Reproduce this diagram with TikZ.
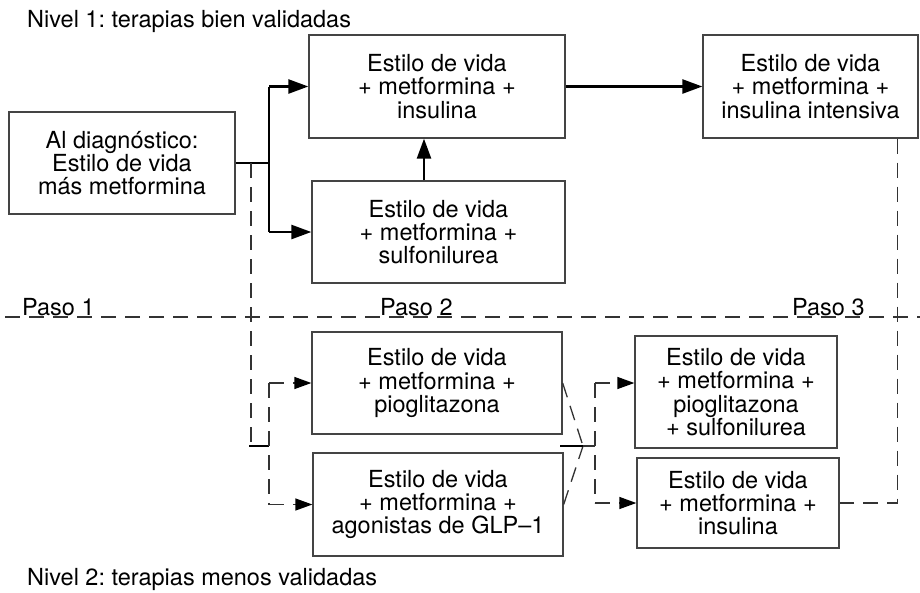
\documentclass[tikz,border=0pt]{standalone}
\usepackage{fontspec}
\setmainfont{TeX Gyre Heros}
\usetikzlibrary{arrows.meta,calc}
\definecolor{boxc}{HTML}{444444}
\definecolor{dashc}{HTML}{333333}
\frenchspacing
\begin{document}
\begin{tikzpicture}[x=1pt,y=-1pt,
  every node/.style={font=\fontsize{23.5}{23.3}\selectfont},
  box/.style={draw=boxc,line width=1.3pt,align=center,inner sep=0pt},
  conn/.style={line width=1.5pt,black},
  arr/.style={line width=2.5pt,black,-{Triangle[length=20pt,width=14pt]}},
  dsh/.style={line width=1.3pt,dashc,dash pattern=on 15pt off 9pt},
  darr/.style={dsh,-{Triangle[length=17pt,width=12pt,color=black]}},
  lbl/.style={anchor=base west,inner sep=0pt}]
\useasboundingbox (0,0) rectangle (920,592);

% boxes
\node[box,minimum width=226pt,minimum height=102pt] (A) at (122,163)
  {Al diagnóstico:\\Estilo de vida\\más metformina};
\node[box,minimum width=256pt,minimum height=103pt] (B) at (437,86.5)
  {Estilo de vida\\+ metformina +\\insulina};
\node[box,minimum width=253pt,minimum height=102pt] (C) at (438.5,232)
  {Estilo de vida\\+ metformina +\\sulfonilurea};
\node[box,minimum width=215pt,minimum height=103pt] (D) at (810.5,86.5)
  {Estilo de vida\\+ metformina +\\insulina intensiva};
\node[box,minimum width=250pt,minimum height=102pt] (E) at (437,383)
  {Estilo de vida\\+ metformina +\\pioglitazona};
\node[box,minimum width=250pt,minimum height=103pt] (F) at (438,504.5)
  {Estilo de vida\\+ metformina +\\agonistas de GLP–1};
\node[box,minimum width=202pt,minimum height=112pt] (G) at (736,392)
  {Estilo de vida\\+ metformina +\\pioglitazona\\+ sulfonilurea};
\node[box,minimum width=202pt,minimum height=90pt] (H) at (738,503)
  {Estilo de vida\\+ metformina +\\insulina};

% labels
\node[lbl] (n1) at (27,27) {Nivel 1: terapias bien validadas};
\node[lbl] (n2) at (27,585) {Nivel 2: terapias menos validadas};
\node[lbl] (p1) at (22,315) {Paso 1};
\node[lbl] (p2) at (380,315) {Paso 2};
\node[lbl] (p3) at (792,315) {Paso 3};

% step line
\coordinate (sl) at (5,317);
\coordinate (sr) at (920,317);
\draw[dsh] (sl) -- (sr);

% level 1 connectors
\coordinate (j1) at (269,163);
\draw[conn] (A.east) -- (j1);
\draw[conn] (j1 |- B.west) -- (j1 |- C.west);
\draw[arr] (j1 |- B.west) -- (B.west);
\draw[arr] (j1 |- C.west) -- (C.west);
\draw[arr] (C.north -| 424,0) -- (B.south -| 424,0);
\draw[arr] (B.east) -- (D.west);

% level 2 connectors from A
\coordinate (k1) at (251,163);
\coordinate (k2) at (251,446);
\coordinate (k0) at (249,446);
\coordinate (j2) at (269,446);
\draw[dsh] (k1) -- (k2);
\draw[conn,line width=1.2pt] (k0) -- (j2);
\draw[dsh] (j2 |- E.west) -- (j2 |- F.west);
\draw[darr] (j2 |- E.west) -- (E.west);
\draw[darr] (j2 |- F.west) -- (F.west);

% merge to step 3
\coordinate (m) at (583,446);
\coordinate (m0) at (560,446);
\coordinate (j3) at (595,446);
\draw[dsh] (E.east) -- (m);
\draw[dsh] (F.east) -- (m);
\draw[conn,line width=1.2pt] (m0) -- (m);
\draw[dsh] (m) -- (j3);
\draw[dsh] (j3 |- E.east) -- (j3 |- H.west);
\draw[darr] (j3 |- E.east) -- (G.west |- E.east);
\draw[darr] (j3 |- H.west) -- (H.west);

% from intensive insulin down to H
\coordinate (d1) at ([xshift=-21pt]D.south east);
\draw[dsh] (d1) |- (H.east);
\end{tikzpicture}
\end{document}
